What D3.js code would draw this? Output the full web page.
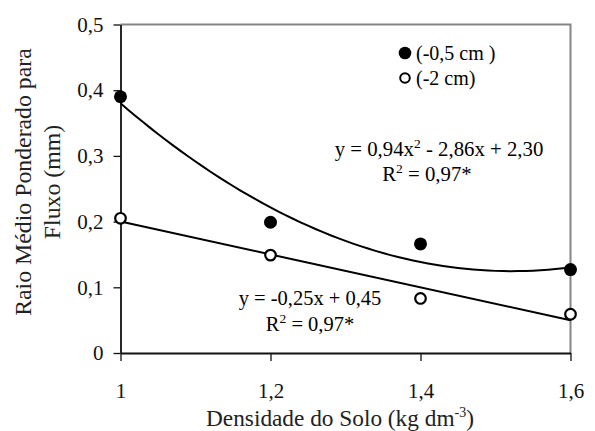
<!DOCTYPE html>
<html><head><meta charset="utf-8">
<script src="https://cdn.jsdelivr.net/npm/d3@7"></script>
</head><body style="margin:0">
<script>
// dados
const densidade = [1, 1.2, 1.4, 1.6];
const raio05cm = [0.39, 0.199, 0.166, 0.127];
const raio2cm = [0.205, 0.149, 0.083, 0.059];
const coefQuad = [0.94, -2.86, 2.30];   // y = a x^2 + b x + c
const coefLin = [-0.25, 0.45];          // y = a x + b
const xTicks = [1, 1.2, 1.4, 1.6];
const yTicks = [0, 0.1, 0.2, 0.3, 0.4, 0.5];

const W = 595, H = 431;
const pt = {left: 120.5, right: 570.5, top: 24.5, bottom: 353};

const br = d3.formatLocale({decimal: ",", thousands: ".", grouping: [3], currency: ["", ""]});
const fmt = br.format(".1~f");

const x = d3.scaleLinear().domain([1, 1.6]).range([pt.left, pt.right]);
const y = d3.scaleLinear().domain([0, 0.5]).range([pt.bottom, pt.top]);

const svg = d3.select("body").append("svg")
    .attr("width", W).attr("height", H)
    .attr("font-family", "Liberation Serif")
    .style("display", "block");

// moldura cinza (topo e direita)
svg.append("path")
    .attr("d", `M${pt.left},${pt.top}H${pt.right}V${pt.bottom}`)
    .attr("fill", "none").attr("stroke", "#858585").attr("stroke-width", 2);

let gx = svg.append("g")
    .attr("transform", `translate(0,${pt.bottom})`)
    .call(d3.axisBottom(x).tickValues(xTicks).tickFormat(fmt).tickSize(8).tickSizeOuter(0).tickPadding(22));
let gy = svg.append("g")
    .attr("transform", `translate(${pt.left},0)`)
    .call(d3.axisLeft(y).tickValues(yTicks).tickFormat(fmt).tickSize(7).tickSizeOuter(0).tickPadding(10));

[gx, gy].forEach(g => {
    g.attr("font-family", "Liberation Serif").attr("font-size", 21);
    g.select(".domain").attr("stroke", "#111").attr("stroke-width", 1.8);
    g.selectAll(".tick line").attr("stroke", "#111").attr("stroke-width", 1.3);
    g.selectAll("text").attr("fill", "#111");
});

// linhas de tendencia a partir dos coeficientes exibidos
const xs = d3.range(1, 1.6001, 0.01);
const quad = v => coefQuad[0] * v * v + coefQuad[1] * v + coefQuad[2];
const lin = v => coefLin[0] * v + coefLin[1];
const line = d3.line().x(d => x(d[0])).y(d => y(d[1]));

svg.append("path")
    .attr("d", line(xs.map(v => [v, quad(v)])))
    .attr("fill", "none").attr("stroke", "#000").attr("stroke-width", 2);
svg.append("path")
    .attr("d", line([1, 1.6].map(v => [v, lin(v)])))
    .attr("fill", "none").attr("stroke", "#000").attr("stroke-width", 2);

// pontos
svg.selectAll("circle.cheio")
    .data(densidade.map((d, i) => [d, raio05cm[i]]))
    .enter().append("circle")
    .attr("class", "cheio")
    .attr("cx", d => x(d[0])).attr("cy", d => y(d[1]))
    .attr("r", 6.5).attr("fill", "#000");
svg.selectAll("circle.vazio")
    .data(densidade.map((d, i) => [d, raio2cm[i]]))
    .enter().append("circle")
    .attr("class", "vazio")
    .attr("cx", d => x(d[0])).attr("cy", d => y(d[1]))
    .attr("r", 5.3).attr("fill", "#fff").attr("stroke", "#000").attr("stroke-width", 2.2);

const txt = (size) => svg.append("text").attr("font-family", "Liberation Serif").attr("font-size", size);
const sup = (t, s, shift) => {
    t.append("tspan").attr("dy", -shift).attr("font-size", s).text("2");
};

// legenda
svg.append("circle").attr("cx", 405).attr("cy", 53).attr("r", 6.3).attr("fill", "#000");
txt(20).attr("x", 416).attr("y", 59.5).text("(-0,5 cm )");
svg.append("circle").attr("cx", 405).attr("cy", 78).attr("r", 4.8)
    .attr("fill", "#fff").attr("stroke", "#000").attr("stroke-width", 2);
txt(20).attr("x", 416).attr("y", 84.5).text("(-2 cm)");

// equacoes
let t1 = txt(20.8).attr("x", 439).attr("y", 156).attr("text-anchor", "middle");
t1.append("tspan").text("y = 0,94x");
sup(t1, 13.5, 8);
t1.append("tspan").attr("dy", 8).text(" - 2,86x + 2,30");
let t2 = txt(20.8).attr("x", 427).attr("y", 181).attr("text-anchor", "middle");
t2.append("tspan").text("R");
sup(t2, 13.5, 8);
t2.append("tspan").attr("dy", 8).text(" = 0,97*");

txt(20.5).attr("x", 310).attr("y", 305).attr("text-anchor", "middle").text("y = -0,25x + 0,45");
let t4 = txt(20.5).attr("x", 310).attr("y", 331).attr("text-anchor", "middle");
t4.append("tspan").text("R");
sup(t4, 13.5, 8);
t4.append("tspan").attr("dy", 8).text(" = 0,97*");

// titulos dos eixos
let xt = txt(23.3).attr("x", 340).attr("y", 426).attr("text-anchor", "middle").attr("fill", "#222");
xt.append("tspan").text("Densidade do Solo (kg dm");
xt.append("tspan").attr("dy", -9).attr("font-size", 14).text("-3");
xt.append("tspan").attr("dy", 9).text(")");

let yt = txt(23.8).attr("transform", "translate(0,182) rotate(-90)")
    .attr("text-anchor", "middle").attr("fill", "#222");
yt.append("tspan").attr("x", 0).attr("y", 31).text("Raio Médio Ponderado para");
yt.append("tspan").attr("x", 0).attr("y", 60).text("Fluxo (mm)");
</script>
</body></html>
